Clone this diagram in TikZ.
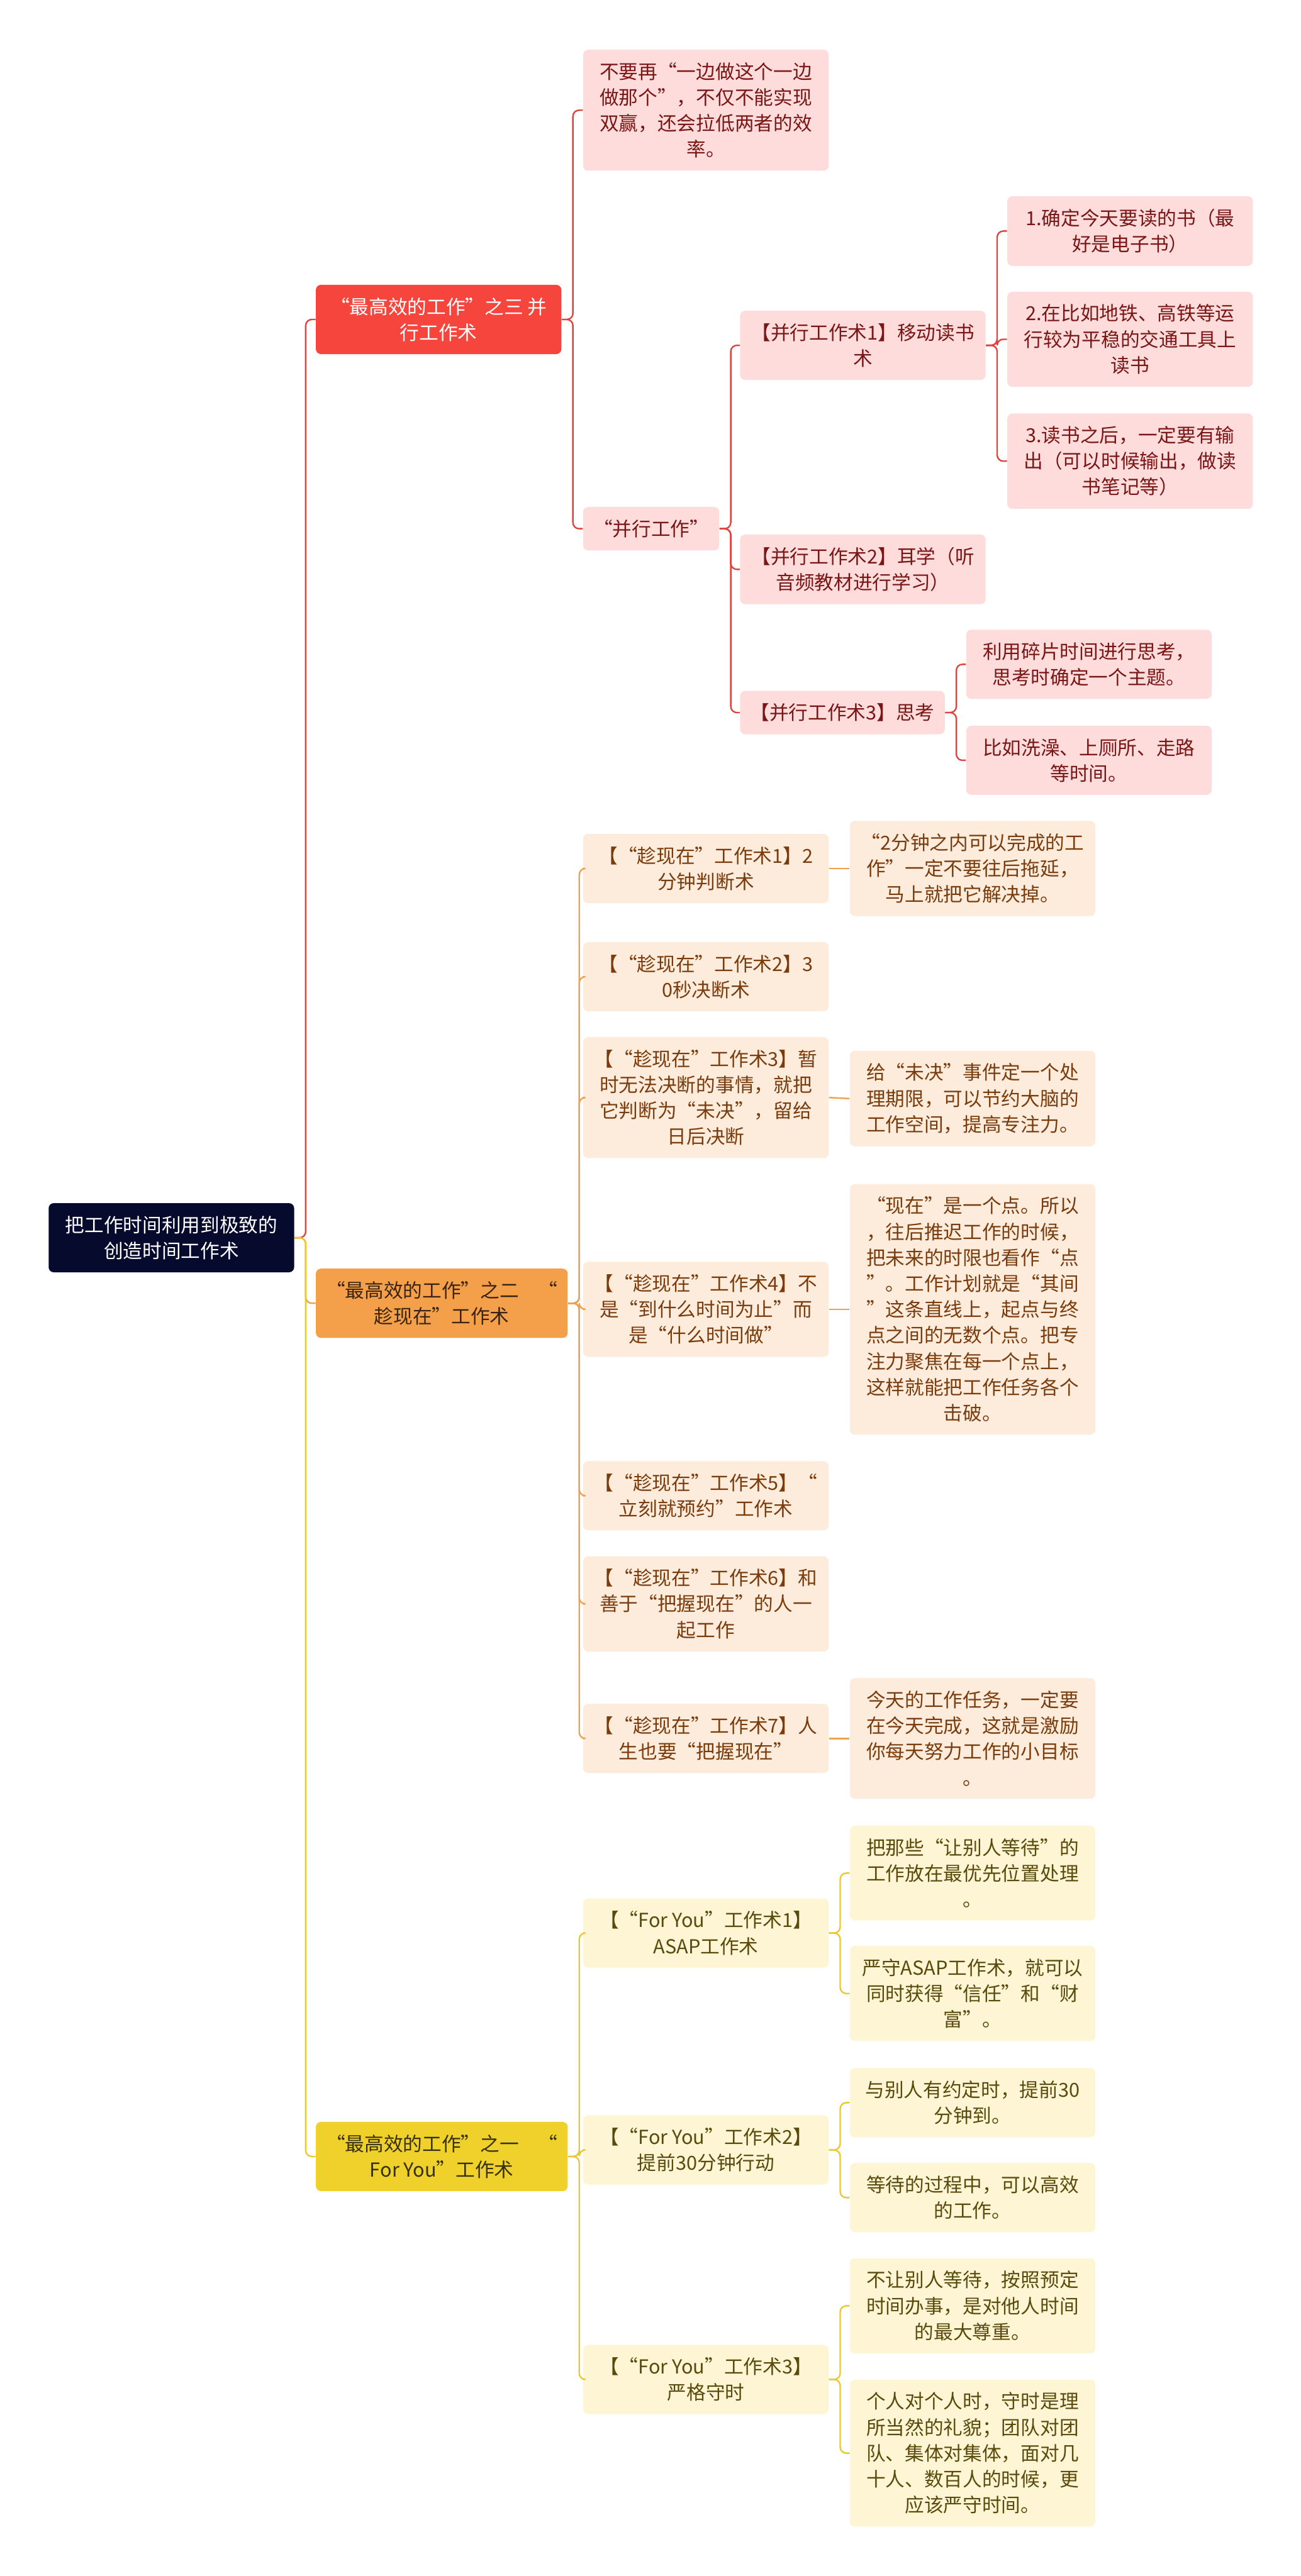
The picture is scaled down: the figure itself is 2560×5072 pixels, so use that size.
\documentclass[tikz,border=0pt]{standalone}
\usepackage{fontspec}
\newfontfamily\cjk{Noto Sans CJK SC}

\definecolor{rootbg}{HTML}{060A2C}
\definecolor{redtop}{HTML}{F5453C}
\definecolor{orgtop}{HTML}{F4A04B}
\definecolor{yeltop}{HTML}{F0D12B}
\definecolor{redsub}{HTML}{FDDCDB}
\definecolor{orgsub}{HTML}{FDEBDB}
\definecolor{yelsub}{HTML}{FDF5D3}
\definecolor{redtext}{HTML}{7A1616}
\definecolor{orgtext}{HTML}{7A3C0C}
\definecolor{yeltext}{HTML}{5A4A0C}
\definecolor{orgdark}{HTML}{3A2410}
\definecolor{yeldark}{HTML}{36300E}
\definecolor{redline}{HTML}{E0443E}
\definecolor{orgline}{HTML}{F0A14F}
\definecolor{yelline}{HTML}{EBC92C}

\begin{document}
\begin{tikzpicture}[x=0.01cm, y=-0.01cm,
  font=\cjk\fontsize{10.8pt}{14.5pt}\selectfont,
  box/.style={rectangle, rounded corners=0.1cm, anchor=west, minimum width=4.83cm,
              inner xsep=0.2cm, inner ysep=0.25cm, align=center},
  root/.style={box, fill=rootbg, text=white},
  rtop/.style={box, fill=redtop, text=white},
  otop/.style={box, fill=orgtop, text=orgdark},
  ytop/.style={box, fill=yeltop, text=yeldark},
  rsub/.style={box, fill=redsub, text=redtext},
  osub/.style={box, fill=orgsub, text=orgtext},
  ysub/.style={box, fill=yelsub, text=yeltext},
  link/.style={line width=0.85pt, rounded corners=0.12cm},
  rln/.style={link, draw=redline},
  oln/.style={link, draw=orgline},
  yln/.style={link, draw=yelline}
]
\useasboundingbox (0,0) rectangle (2560,5072);

\node[root] (m)  at (95,2437)  {把工作时间利用到极致的\\创造时间工作术};
\node[rtop] (r)  at (621,629)  {“最高效的工作”之三 并\\行工作术};
\node[otop] (o)  at (621,2566) {“最高效的工作”之二　“\\趁现在”工作术};
\node[ytop] (y)  at (621,4246) {“最高效的工作”之一　“\\For You”工作术};

\node[rsub] (r1)  at (1147,217)  {不要再“一边做这个一边\\做那个”，不仅不能实现\\双赢，还会拉低两者的效\\率。};
\node[rsub, minimum width=0pt] (r2) at (1147,1041) {“并行工作”};
\node[rsub] (r21) at (1456,680)  {【并行工作术1】移动读书\\术};
\node[rsub] (r22) at (1456,1121) {【并行工作术2】耳学（听\\音频教材进行学习）};
\node[rsub, minimum width=0pt] (r23) at (1456,1403) {【并行工作术3】思考};
\node[rsub] (r211) at (1982,455) {1.确定今天要读的书（最\\好是电子书）};
\node[rsub] (r212) at (1982,668) {2.在比如地铁、高铁等运\\行较为平稳的交通工具上\\读书};
\node[rsub] (r213) at (1982,908) {3.读书之后，一定要有输\\出（可以时候输出，做读\\书笔记等）};
\node[rsub] (r231) at (1901,1308) {利用碎片时间进行思考，\\思考时确定一个主题。};
\node[rsub] (r232) at (1901,1497) {比如洗澡、上厕所、走路\\等时间。};

\node[osub] (o1) at (1147,1710) {【“趁现在”工作术1】2\\分钟判断术};
\node[osub] (o2) at (1147,1923) {【“趁现在”工作术2】3\\0秒决断术};
\node[osub] (o3) at (1147,2161) {【“趁现在”工作术3】暂\\时无法决断的事情，就把\\它判断为“未决”，留给\\日后决断};
\node[osub] (o4) at (1147,2578) {【“趁现在”工作术4】不\\是“到什么时间为止”而\\是“什么时间做”};
\node[osub] (o5) at (1147,2945) {【“趁现在”工作术5】“\\立刻就预约”工作术};
\node[osub] (o6) at (1147,3158) {【“趁现在”工作术6】和\\善于“把握现在”的人一\\起工作};
\node[osub] (o7) at (1147,3423) {【“趁现在”工作术7】人\\生也要“把握现在”};
\node[osub] (o11) at (1672,1710) {“2分钟之内可以完成的工\\作”一定不要往后拖延，\\马上就把它解决掉。};
\node[osub] (o31) at (1672,2163) {给“未决”事件定一个处\\理期限，可以节约大脑的\\工作空间，提高专注力。};
\node[osub] (o41) at (1672,2578) {“现在”是一个点。所以\\，往后推迟工作的时候，\\把未来的时限也看作“点\\”。工作计划就是“其间\\”这条直线上，起点与终\\点之间的无数个点。把专\\注力聚焦在每一个点上，\\这样就能把工作任务各个\\击破。};
\node[osub] (o71) at (1672,3423) {今天的工作任务，一定要\\在今天完成，这就是激励\\你每天努力工作的小目标\\。};

\node[ysub] (y1) at (1147,3806) {【“For You”工作术1】\\ASAP工作术};
\node[ysub] (y2) at (1147,4233) {【“For You”工作术2】\\提前30分钟行动};
\node[ysub] (y3) at (1147,4685) {【“For You”工作术3】\\严格守时};
\node[ysub] (y11) at (1672,3688) {把那些“让别人等待”的\\工作放在最优先位置处理\\。};
\node[ysub] (y12) at (1672,3925) {严守ASAP工作术，就可以\\同时获得“信任”和“财\\富”。};
\node[ysub] (y21) at (1672,4140) {与别人有约定时，提前30\\分钟到。};
\node[ysub] (y22) at (1672,4327) {等待的过程中，可以高效\\的工作。};
\node[ysub] (y31) at (1672,4540) {不让别人等待，按照预定\\时间办事，是对他人时间\\的最大尊重。};
\node[ysub] (y32) at (1672,4830) {个人对个人时，守时是理\\所当然的礼貌；团队对团\\队、集体对集体，面对几\\十人、数百人的时候，更\\应该严守时间。};

\draw[rln] (m.east) -- ++(22,0) |- (r.west);
\draw[oln] (m.east) -- ++(22,0) |- (o.west);
\draw[yln] (m.east) -- ++(22,0) |- (y.west);

\draw[rln] (r.east) -- ++(22,0) |- (r1.west);
\draw[rln] (r.east) -- ++(22,0) |- (r2.west);
\draw[rln] (r2.east) -- ++(22,0) |- (r21.west);
\draw[rln] (r2.east) -- ++(22,0) |- (r22.west);
\draw[rln] (r2.east) -- ++(22,0) |- (r23.west);
\draw[rln] (r21.east) -- ++(22,0) |- (r211.west);
\draw[rln] (r21.east) -- ++(22,0) |- (r212.west);
\draw[rln] (r21.east) -- ++(22,0) |- (r213.west);
\draw[rln] (r23.east) -- ++(22,0) |- (r231.west);
\draw[rln] (r23.east) -- ++(22,0) |- (r232.west);

\draw[oln] (o.east) -- ++(22,0) |- (o1.west);
\draw[oln] (o.east) -- ++(22,0) |- (o2.west);
\draw[oln] (o.east) -- ++(22,0) |- (o3.west);
\draw[oln] (o.east) -- ++(22,0) |- (o4.west);
\draw[oln] (o.east) -- ++(22,0) |- (o5.west);
\draw[oln] (o.east) -- ++(22,0) |- (o6.west);
\draw[oln] (o.east) -- ++(22,0) |- (o7.west);
\draw[oln] (o1.east) -- (o11.west);
\draw[oln] (o3.east) -- (o31.west);
\draw[oln] (o4.east) -- (o41.west);
\draw[oln] (o7.east) -- (o71.west);

\draw[yln] (y.east) -- ++(22,0) |- (y1.west);
\draw[yln] (y.east) -- ++(22,0) |- (y2.west);
\draw[yln] (y.east) -- ++(22,0) |- (y3.west);
\draw[yln] (y1.east) -- ++(22,0) |- (y11.west);
\draw[yln] (y1.east) -- ++(22,0) |- (y12.west);
\draw[yln] (y2.east) -- ++(22,0) |- (y21.west);
\draw[yln] (y2.east) -- ++(22,0) |- (y22.west);
\draw[yln] (y3.east) -- ++(22,0) |- (y31.west);
\draw[yln] (y3.east) -- ++(22,0) |- (y32.west);
\end{tikzpicture}
\end{document}
